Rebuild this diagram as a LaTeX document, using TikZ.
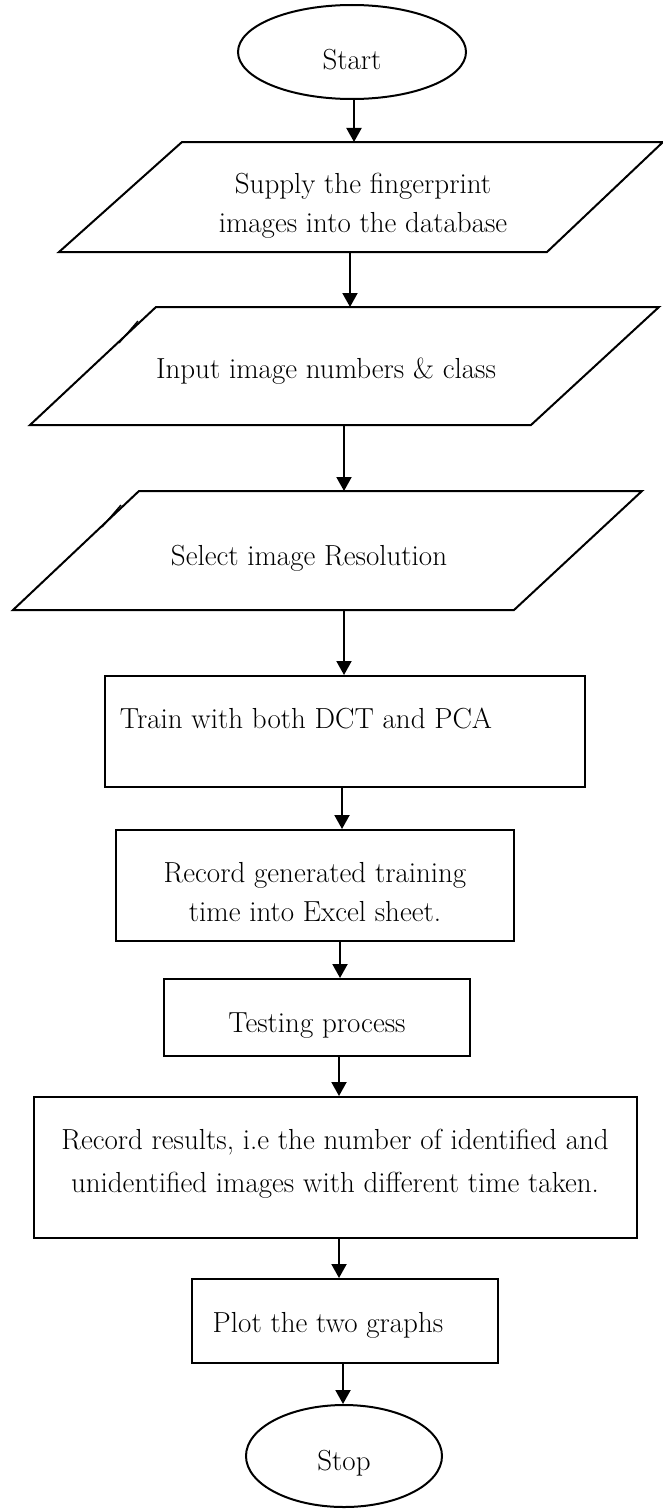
\documentclass[tikz,border=0pt]{standalone}
\usepackage{fontspec}
\usetikzlibrary{arrows.meta,shapes.geometric}
\begin{document}
\begin{tikzpicture}[x=1pt,y=-1pt,
  edge/.style={line width=2pt,line join=miter},
  tick/.style={line width=1.4pt},
  arr/.style={line width=2pt,-{Triangle[length=14pt,width=15pt]}},
  lbl/.style={font=\fontsize{29}{39}\selectfont,align=center,inner sep=0pt,anchor=base},
  box/.style={draw,line width=2pt,inner sep=0pt,rectangle},
  oval/.style={draw,line width=2pt,inner sep=0pt,ellipse},
  hold/.style={inner sep=0pt,outer sep=0pt,rectangle}
]
\useasboundingbox (0,0) rectangle (662,1509);

% Start
\node[oval,minimum width=228pt,minimum height=94pt] (start) at (352,52) {};
\node[lbl] (tstart) at (352,70) {Start};

% Parallelogram 1
\node[hold,minimum width=480pt,minimum height=110pt] (p1) at (352,197) {};
\draw[edge] (182,142) -- (663,142) -- (547,252) -- (59,252) -- cycle;
\node[lbl] (t1) at (363,232) {Supply the fingerprint\\images into the database};

% Parallelogram 2
\node[hold,minimum width=480pt,minimum height=118pt] (p2) at (346,366) {};
\draw[edge] (156,307) -- (659,307) -- (531,425) -- (30,425) -- cycle;
\draw[tick] (138,321) -- (119,343);
\node[lbl] (t2) at (326,378) {Input image numbers \& class};

% Parallelogram 3
\node[hold,minimum width=480pt,minimum height=119pt] (p3) at (344,550.5) {};
\draw[edge] (139,491) -- (642,491) -- (514,610) -- (13,610) -- cycle;
\draw[tick] (121,505) -- (102,527);
\node[lbl] (t3) at (309,565) {Select image Resolution};

% Box 4
\node[box,minimum width=480pt,minimum height=111pt] (b4) at (345,731.5) {};
\node[lbl] (t4) at (306,728) {Train with both DCT and PCA};

% Box 5
\node[box,minimum width=398pt,minimum height=111pt] (b5) at (315,885.5) {};
\node[lbl] (t5) at (315,921) {Record generated training\\time into Excel sheet.};

% Box 6
\node[box,minimum width=306pt,minimum height=77pt] (b6) at (317,1017.5) {};
\node[lbl] (t6) at (317,1032) {Testing process};

% Box 7
\node[box,minimum width=603pt,minimum height=141pt] (b7) at (335.5,1167.5) {};
\node[lbl] (t7) at (335,1192) {Record results, i.e the number of identified and\\[4pt]unidentified images with different time taken.};

% Box 8
\node[box,minimum width=306pt,minimum height=84pt] (b8) at (345,1321) {};
\node[lbl] (t8) at (328,1332) {Plot the two graphs};

% Stop
\node[oval,minimum width=196pt,minimum height=102pt] (stop) at (344,1456) {};
\node[lbl] (tstop) at (344,1470) {Stop};

% Connectors
\draw[arr] (start.south -| 354,0) -- (p1.north -| 354,0);
\draw[arr] (p1.south -| 350,0) -- (p2.north -| 350,0);
\draw[arr] (p2.south -| 344,0) -- (p3.north -| 344,0);
\draw[arr] (p3.south -| 344,0) -- (b4.north -| 344,0);
\draw[arr] (b4.south -| 342,0) -- (b5.north -| 342,0);
\draw[arr] (b5.south -| 340,0) -- (b6.north -| 340,0);
\draw[arr] (b6.south -| 339,0) -- (b7.north -| 339,0);
\draw[arr] (b7.south -| 339,0) -- (b8.north -| 339,0);
\draw[arr] (b8.south -| 343,0) -- (stop.north -| 343,0);
\end{tikzpicture}
\end{document}
